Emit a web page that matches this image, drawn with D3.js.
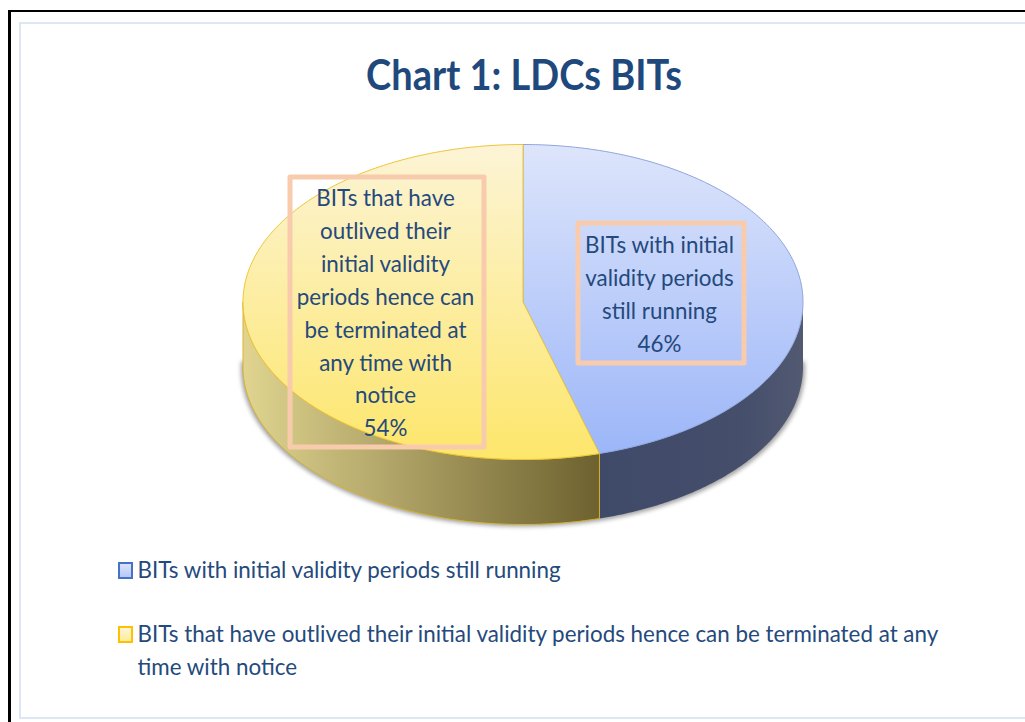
<!DOCTYPE html>
<html>
<head>
<meta charset="utf-8">
<script src="https://cdn.jsdelivr.net/npm/d3@7"></script>
<style>
html, body { margin: 0; padding: 0; background: #fff; overflow: hidden; }
svg { display: block; }
text { font-family: Lato, "Open Sans", sans-serif; fill: #24497c; }
</style>
</head>
<body>
<div id="chart"></div>
<script>
// slice shares, labels round them
var categories = ["BITs with initial validity periods still running",
    "BITs that have outlived their initial validity periods hence can be terminated at any time with notice"];
var shares = [45.6, 54.4];
var labelLines = [
    ["BITs with initial", "validity periods", "still running"],
    ["BITs that have", "outlived their", "initial validity", "periods hence can", "be terminated at", "any time with", "notice"]
];
var legendLines = [
    ["BITs with initial validity periods still running"],
    ["BITs that have outlived their initial validity periods hence can be terminated at any", "time with notice"]
];
var titleText = "Chart 1: LDCs BITs";

var width = 1025, height = 722;
var squeeze = 0.933;   // Lato is wider than the Calibri look of the original

var svg = d3.select("#chart").append("svg").attr("width", width).attr("height", height);
var defs = svg.append("defs");

function gradient(id, vertical, stops) {
    var g = defs.append("linearGradient").attr("id", id)
        .attr("x1", 0).attr("y1", 0)
        .attr("x2", vertical ? 0 : 1).attr("y2", vertical ? 1 : 0);
    stops.forEach(function(s) {
        g.append("stop").attr("offset", s[0]).attr("stop-color", s[1]);
    });
}
gradient("blueTop", true, [[0, "#dde5fb"], [1, "#9cb6f8"]]);
gradient("yellowTop", true, [[0, "#fcf4d6"], [1, "#fde66b"]]);
gradient("blueSide", false, [[0, "#3f4a69"], [0.7, "#454e6b"], [1, "#525a72"]]);
gradient("yellowSide", false, [[0, "#e0d490"], [1, "#6d612f"]]);
gradient("blueKey", true, [[0, "#dde5fb"], [1, "#b4c6f8"]]);
gradient("yellowKey", true, [[0, "#fdf6dc"], [1, "#fdeb96"]]);
defs.append("filter").attr("id", "soft")
    .attr("x", "-5%").attr("y", "-5%").attr("width", "110%").attr("height", "110%")
    .append("feGaussianBlur").attr("stdDeviation", 2);

// frames
svg.append("path").attr("d", "M9.5,722V11")
    .attr("fill", "none").attr("stroke", "#000").attr("stroke-width", 3);
svg.append("path").attr("d", "M8,11H1025")
    .attr("fill", "none").attr("stroke", "#000").attr("stroke-width", 2);
svg.append("rect").attr("x", 20).attr("y", 23).attr("width", 1100).attr("height", 695)
    .attr("fill", "none").attr("stroke", "#dce6f4").attr("stroke-width", 2);

svg.append("text").attr("transform", "translate(524,90) scale(0.905,1)")
    .attr("text-anchor", "middle").attr("font-size", 42).attr("font-weight", 700)
    .attr("style", "fill:#1f497d")
    .text(titleText);

// pie
var cx = 523, cy = 302, rx = 280, ry = 157.5, depth = 65;

var pie = d3.pie().sort(null).value(function(d) { return d; });
var arcs = pie(shares);

function pt(a, dy) {
    return [cx + rx * Math.sin(a), cy - ry * Math.cos(a) + (dy || 0)];
}
function rim(a0, a1, dy) {
    var p = [];
    var n = Math.max(2, Math.ceil((a1 - a0) * 90));
    d3.range(n + 1).forEach(function(i) {
        p.push(pt(a0 + (a1 - a0) * i / n, dy));
    });
    return p;
}
var line = d3.line();

// only the front half of each rim has a visible wall
function wallPath(a0, a1) {
    var from = Math.max(a0, Math.PI / 2), to = Math.min(a1, Math.PI * 1.5);
    var top = rim(from, to, 0), bottom = rim(from, to, depth).reverse();
    return line(top.concat(bottom)) + "Z";
}
var topFills = ["url(#blueTop)", "url(#yellowTop)"];
var sideFills = ["url(#blueSide)", "url(#yellowSide)"];
var edgeColors = ["#8ea5dc", "#eec534"];

// soft shadow under the lower edge
svg.append("path")
    .attr("d", line(rim(Math.PI / 2 - 0.05, Math.PI * 1.5 + 0.05, depth + 2).map(function(p) { return [p[0] + (p[0] > cx ? 2 : -2), p[1]]; })) + "Z")
    .attr("fill", "#555").attr("opacity", 0.55).attr("filter", "url(#soft)");

svg.selectAll("path.wall").data(arcs).enter().append("path")
    .attr("class", "wall")
    .attr("d", function(d) { return wallPath(d.startAngle, d.endAngle); })
    .attr("fill", function(d, i) { return sideFills[i]; })
    .attr("stroke", function(d, i) { return i ? "#d9b32e" : "none"; })
    .attr("stroke-width", 1);

svg.selectAll("path.slice").data(arcs).enter().append("path")
    .attr("class", "slice")
    .attr("d", function(d) {
        return line([[cx, cy]].concat(rim(d.startAngle, d.endAngle, 0))) + "Z";
    })
    .attr("fill", function(d, i) { return topFills[i]; })
    .attr("stroke", function(d, i) { return edgeColors[i]; })
    .attr("stroke-width", 1);

// data labels
var boxes = [
    {x: 578, y: 223, w: 166, h: 140, first: 253},
    {x: 290, y: 177, w: 194, h: 270, first: 206}
];
var labelStep = 32.9;
boxes.forEach(function(b, i) {
    svg.append("rect").attr("x", b.x).attr("y", b.y).attr("width", b.w).attr("height", b.h)
        .attr("fill", "none").attr("stroke", "#f8cbad").attr("stroke-width", 5)
        .attr("stroke-linejoin", "round");
    var lines = labelLines[i].concat([d3.format(".0f")(shares[i]) + "%"]);
    lines.forEach(function(l, j) {
        svg.append("text")
            .attr("transform", "translate(" + (b.x + b.w / 2 - 1.5) + "," + (b.first + j * labelStep) + ") scale(" + squeeze + ",1)")
            .attr("text-anchor", "middle").attr("font-size", 24)
            .text(l);
    });
});

// legend
var keyColors = ["#4472c4", "#ffc000"];
var keyFills = ["url(#blueKey)", "url(#yellowKey)"];
var legendY = [578, 642];
legendLines.forEach(function(lines, i) {
    svg.append("rect").attr("x", 119).attr("y", legendY[i] - 15).attr("width", 13).attr("height", 15)
        .attr("fill", keyFills[i]).attr("stroke", keyColors[i]).attr("stroke-width", 2);
    lines.forEach(function(l, j) {
        svg.append("text")
            .attr("transform", "translate(137.5," + (legendY[i] + j * 33) + ") scale(" + squeeze + ",1)")
            .attr("font-size", 24)
            .text(l);
    });
});
</script>
</body>
</html>
